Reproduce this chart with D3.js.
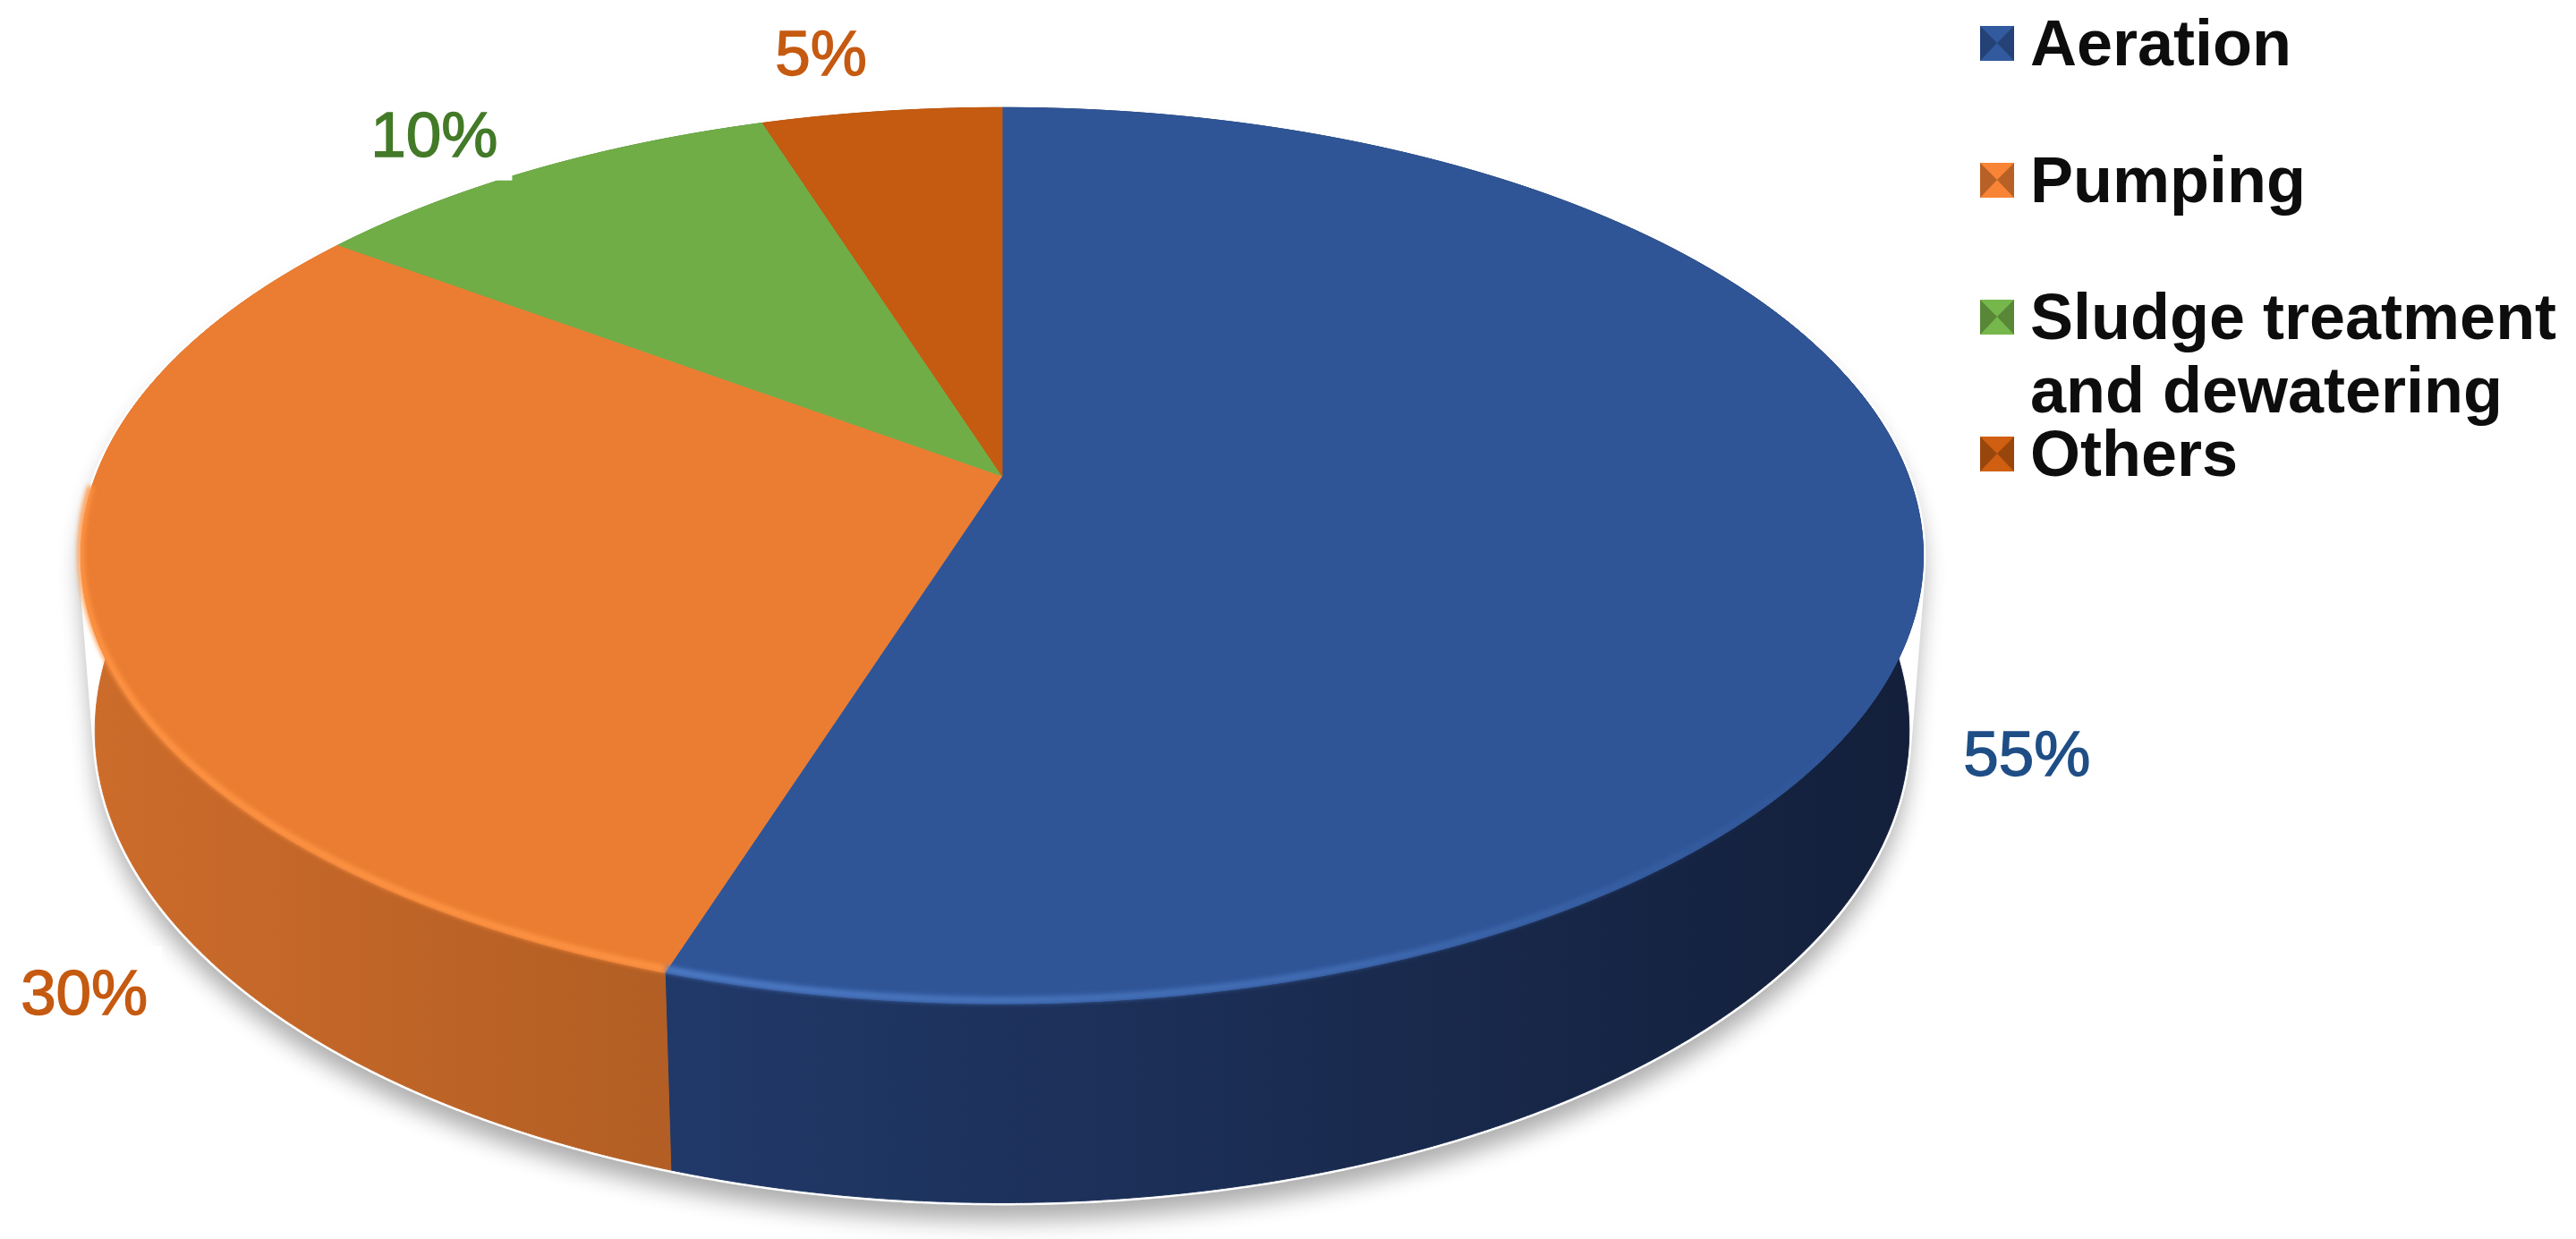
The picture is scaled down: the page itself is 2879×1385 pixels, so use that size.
<!DOCTYPE html>
<html>
<head>
<meta charset="utf-8">
<script src="https://cdn.jsdelivr.net/npm/d3@7"></script>
<style>
  html, body { margin: 0; padding: 0; background: #fff; }
  svg { display: block; }
  text { font-family: "Liberation Sans", Arial, sans-serif; }
</style>
</head>
<body>
<div id="chart"></div>
<script>
// energy use shares
var categories = ["Aeration", "Pumping", "Sludge treatment and dewatering", "Others"];
var shares = [55, 30, 10, 5];
var shareLabels = ["55%", "30%", "10%", "5%"];

// colours of top face, side wall (light -> dark), rim highlight, label
var topColors = ["#2F5597", "#EB7D32", "#70AD47", "#C55A11"];
var sideColors = [["#213969", "#131F3A"], ["#CD6C2B", "#B25E24"], ["#5C8F3A", "#4E7A31"], ["#A84C0E", "#8F400C"]];
var rimColors = ["#5282CE", "#FF9444", "#8CCB5E", "#E0712A"];
var labelColors = ["#1F4E86", "#C55A11", "#437A28", "#C55A11"];
// manual nudges of the data labels (as dragged in the source program)
var labelNudge = [[-22, 246], [135, 421], [-56, 24], [-53, 4]];

var width = 2879, height = 1385;
// 3d pie projection: centre, radii, perspective, wall depth
var CX = 1120, CY = 532, RX = 1013, RY = 485, K = 0.178, DEPTH = 195, FAR = 0.015;

var svg = d3.select("#chart")
  .append("svg")
    .attr("width", width)
    .attr("height", height);

var defs = svg.append("defs");

defs.append("filter")
    .attr("id", "shadow")
    .attr("x", "-10%").attr("y", "-10%").attr("width", "120%").attr("height", "130%")
  .append("feGaussianBlur")
    .attr("stdDeviation", 13);

defs.append("filter")
    .attr("id", "soft")
    .attr("x", "-5%").attr("y", "-20%").attr("width", "110%").attr("height", "140%")
  .append("feGaussianBlur")
    .attr("stdDeviation", 2.5);

var pie = d3.pie().sort(null).value(function(d) { return d; });
var arcs = pie(shares);

// angle a clockwise from 12 o'clock, r radius fraction, z = 0 top, 1 bottom
function project(a, r, z) {
  var u = r * Math.sin(a), v = -r * Math.cos(a);
  var d = 1 - K * v + FAR * z;
  return [CX + RX * u / d, CY + (RY * v + DEPTH * z) / d];
}
function rim(a0, a1, z) {
  var n = Math.max(2, Math.ceil((a1 - a0) / 0.004));
  return d3.range(n + 1).map(function(i) { return project(a0 + (a1 - a0) * i / n, 1, z); });
}
var line = d3.line();

// shadow and thin white halo round the whole pie
var hull = d3.polygonHull(rim(0, 2 * Math.PI, 0).concat(rim(0, 2 * Math.PI, 1)));
svg.append("path")
  .attr("d", line(hull) + "Z")
  .attr("transform", "translate(0,20)")
  .attr("fill", "#000")
  .attr("opacity", 0.32)
  .attr("filter", "url(#shadow)");
svg.append("path")
  .attr("d", line(hull) + "Z")
  .attr("fill", "#fff")
  .attr("stroke", "#fff")
  .attr("stroke-width", 6);

// side walls
arcs.forEach(function(d, i) {
  var pts = rim(d.startAngle, d.endAngle, 0).concat(rim(d.startAngle, d.endAngle, 1).reverse());
  var xs = d3.extent(pts, function(p) { return p[0]; });
  var g = defs.append("linearGradient")
      .attr("id", "side" + i)
      .attr("gradientUnits", "userSpaceOnUse")
      .attr("x1", xs[0]).attr("x2", xs[1])
      .attr("y1", 0).attr("y2", 0);
  g.append("stop").attr("offset", 0).attr("stop-color", sideColors[i][0]);
  g.append("stop").attr("offset", 1).attr("stop-color", sideColors[i][1]);
  svg.append("path")
    .attr("d", line(pts) + "Z")
    .attr("fill", "url(#side" + i + ")")
    .attr("stroke", "url(#side" + i + ")")
    .attr("stroke-width", 1);
});

// top faces
arcs.forEach(function(d, i) {
  svg.append("path")
    .attr("d", line([[CX, CY]].concat(rim(d.startAngle, d.endAngle, 0))) + "Z")
    .attr("fill", topColors[i])
    .attr("stroke", topColors[i])
    .attr("stroke-width", 1);
});

// bevel highlight along the near rim
var fade = defs.append("linearGradient")
    .attr("id", "fade")
    .attr("gradientUnits", "userSpaceOnUse")
    .attr("x1", 700).attr("x2", 2050).attr("y1", 0).attr("y2", 0);
fade.append("stop").attr("offset", 0).attr("stop-color", rimColors[0]).attr("stop-opacity", 0.95);
fade.append("stop").attr("offset", 0.55).attr("stop-color", rimColors[0]).attr("stop-opacity", 0.6);
fade.append("stop").attr("offset", 1).attr("stop-color", rimColors[0]).attr("stop-opacity", 0);

arcs.forEach(function(d, i) {
  var a0 = Math.max(d.startAngle, Math.PI * 0.55), a1 = Math.min(d.endAngle, Math.PI * 1.49);
  if (a1 <= a0) return;
  svg.append("path")
    .attr("d", line(rim(a0, a1, 0)))
    .attr("transform", "translate(0,-4)")
    .attr("fill", "none")
    .attr("stroke", i === 0 ? "url(#fade)" : rimColors[i])
    .attr("stroke-width", 8)
    .attr("opacity", 0.9)
    .attr("filter", "url(#soft)");
});

// data labels
arcs.forEach(function(d, i) {
  var p = project((d.startAngle + d.endAngle) / 2, 1.13, 0);
  var x = p[0] + labelNudge[i][0], y = p[1] + labelNudge[i][1];
  var bg = svg.append("rect").attr("fill", "#fff");
  var t = svg.append("text")
    .attr("x", x)
    .attr("y", y)
    .attr("text-anchor", "middle")
    .attr("font-size", 71)
    .attr("fill", labelColors[i])
    .attr("stroke", labelColors[i])
    .attr("stroke-width", 1.4)
    .text(shareLabels[i]);
  var b = t.node().getBBox();
  bg.attr("x", b.x - 16).attr("y", b.y - 12)
    .attr("width", b.width + 32).attr("height", b.height + 24);
});

// legend
var legendY = d3.scalePoint().domain(categories).range([73, 532]);
var legendX = 2213, legendText = 2269, box = 38, maxW = 589;

categories.forEach(function(c, i) {
  var y = legendY(c);
  var x0 = legendX, y0 = y - 44;
  var base = d3.color(topColors[i]);
  svg.append("rect")
    .attr("x", x0).attr("y", y0).attr("width", box).attr("height", box + 1)
    .attr("fill", base.brighter(0.15));
  [[x0, y0, x0 + box / 2, y0 + box / 2, x0, y0 + box + 1],
   [x0 + box, y0, x0 + box / 2, y0 + box / 2, x0 + box, y0 + box + 1]].forEach(function(tri) {
    svg.append("path")
      .attr("d", "M" + tri[0] + "," + tri[1] + "L" + tri[2] + "," + tri[3] + "L" + tri[4] + "," + tri[5] + "Z")
      .attr("fill", base.darker(0.7));
  });

  var t = svg.append("text")
    .attr("x", legendText)
    .attr("y", y)
    .attr("font-size", 72)
    .attr("font-weight", "bold")
    .attr("fill", "#0d0d0d");
  // wrap long names on two lines
  var words = c.split(" "), lineWords = [];
  var tspan = t.append("tspan").attr("x", legendText).attr("dy", 0);
  words.forEach(function(w) {
    lineWords.push(w);
    tspan.text(lineWords.join(" "));
    if (tspan.node().getComputedTextLength() > 640 && lineWords.length > 1) {
      lineWords.pop();
      tspan.text(lineWords.join(" "));
      lineWords = [w];
      tspan = t.append("tspan").attr("x", legendText).attr("dy", 82).text(w);
    }
  });
  t.selectAll("tspan").each(function() {
    if (this.getComputedTextLength() > maxW + 6) {
      d3.select(this).attr("textLength", maxW).attr("lengthAdjust", "spacingAndGlyphs");
    }
  });
});
</script>
</body>
</html>
